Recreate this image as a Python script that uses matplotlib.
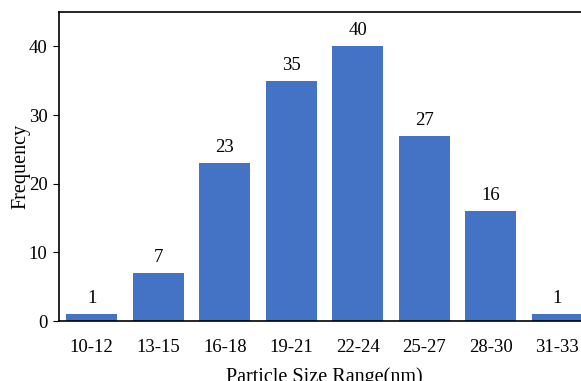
import matplotlib.pyplot as plt

plt.rcParams['font.family'] = ['Liberation Serif', 'DejaVu Serif']

# size ranges and counts
size_ranges = ['10-12', '13-15', '16-18', '19-21', '22-24', '25-27', '28-30', '31-33']
counts = [1, 7, 23, 35, 40, 27, 16, 1]
y_ticks = [0, 10, 20, 30, 40]

W, H = 581, 381
fig = plt.figure(figsize=(W / 100, H / 100), dpi=100)
# axes runs past the right edge, the original picture is cropped there
ax = fig.add_axes([58.5 / W, 1 - 321 / H, 532 / W, 309 / H])

x = range(len(size_ranges))
bars = ax.bar(x, counts, width=0.77, color='#4472C4')
for b, v in zip(bars, counts):
    ax.text(b.get_x() + b.get_width() / 2, v + 1.0, str(v),
            ha='center', va='bottom', fontsize=13.5)

ax.set_xlim(-0.5, len(size_ranges) - 0.5)
ax.set_ylim(0, 45)
ax.set_xticks(list(x))
ax.set_xticklabels(size_ranges)
ax.set_yticks(y_ticks)
ax.tick_params(axis='x', length=0, labelsize=13.5, pad=13)
ax.tick_params(axis='y', length=4, labelsize=13.5, pad=4)
ax.set_xlabel('Particle Size Range(nm)', fontsize=14.5, labelpad=8)
ax.set_ylabel('Frequency', fontsize=14.5)
ax.yaxis.set_label_coords(-28 / 532, 0.5)

for s in ax.spines.values():
    s.set_linewidth(1.2)

fig.savefig('out.png', dpi=100)
